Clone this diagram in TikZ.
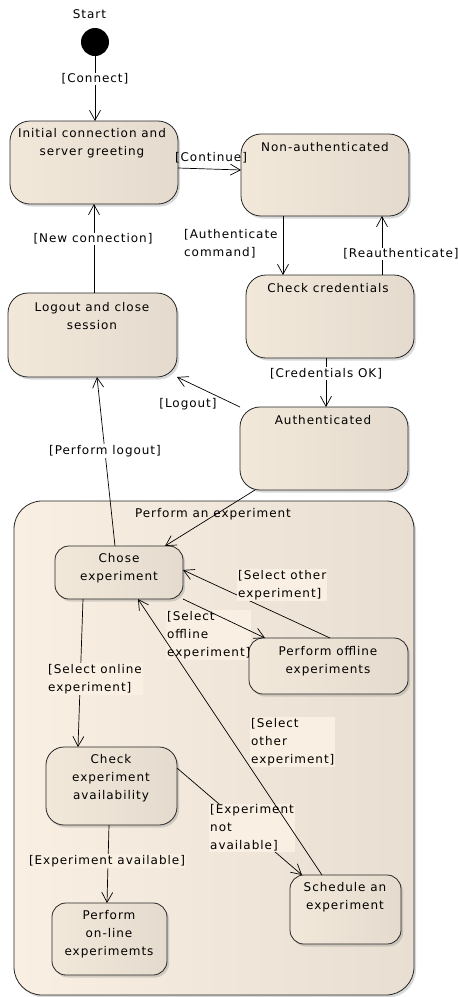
\documentclass[tikz,border=0pt]{standalone}
\usepackage{fontspec}
\newfontfamily\diafont[LetterSpace=8]{DejaVu Sans}
\usetikzlibrary{arrows.meta,shadows,calc}
\definecolor{boxL}{HTML}{F2E8DA}
\definecolor{boxM}{HTML}{FBF1E4}
\definecolor{boxR}{HTML}{E4DBCE}
\definecolor{compL}{HTML}{F9EFE2}
\definecolor{compM}{HTML}{F9EFE2}
\definecolor{compR}{HTML}{E8DFD2}
\definecolor{lblbg}{HTML}{F9EFE2}
\begin{document}
\begin{tikzpicture}[x=1pt,y=-1pt,
  font=\diafont\fontsize{12}{18}\selectfont,
  statebox/.style={draw=black!85, line width=0.8pt, rounded corners=#1,
    left color=boxL, middle color=boxM, right color=boxR, shading angle=90,
    drop shadow={shadow xshift=2pt, shadow yshift=-2.5pt, opacity=0.3},
    inner sep=0pt, outer sep=0pt},
  statebox/.default=20pt,
  comp/.style={draw=black!85, line width=0.8pt, rounded corners=28pt,
    left color=compL, middle color=compM, right color=compR,
    drop shadow={shadow xshift=2pt, shadow yshift=-2.5pt, opacity=0.3},
    inner sep=0pt, outer sep=0pt},
  stxt/.style={align=center, inner sep=0pt},
  lbl/.style={align=center, inner sep=1pt, fill=white},
  lbli/.style={align=left, inner sep=1pt, fill=lblbg},
  lbln/.style={align=left, inner sep=1pt},
  conn/.style={draw=black, line width=0.7pt,
    -{Straight Barb[length=10pt,width=11pt,line width=0.7pt]}}
]
\useasboundingbox (0,0) rectangle (458,997);
\fill[white] (0,0) rectangle (458,997);

% composite state
\node[comp, minimum width=400pt, minimum height=494pt] (compbox) at (214,748) {};
\node[stxt] (compT) at (213,514) {Perform an experiment};

% start
\node[stxt] (startT) at (89.5,14) {Start};
\node[circle, fill=black, minimum size=28pt, inner sep=0pt] (start) at (95,42) {};

% states
\node[statebox, minimum width=168pt, minimum height=83pt] (init) at (94,162.5) {};
\node[statebox, minimum width=168pt, minimum height=82pt] (nonauth) at (325,175) {};
\node[statebox, minimum width=168pt, minimum height=83pt] (check) at (330,316.5) {};
\node[statebox, minimum width=168pt, minimum height=83pt] (authd) at (324,448.5) {};
\node[statebox, minimum width=169pt, minimum height=84pt] (logout) at (92.5,335) {};
\node[statebox=14pt, minimum width=128pt, minimum height=53pt] (chose) at (119,572.5) {};
\node[statebox=18pt, minimum width=131pt, minimum height=78pt] (checkexp) at (111.5,786) {};
\node[statebox=14pt, minimum width=111pt, minimum height=69pt] (sched) at (345.5,909.5) {};
\node[statebox=14pt, minimum width=115pt, minimum height=72pt] (online) at (109.5,939) {};

% labels inside composite drawn before the offline box
\node[lbli, anchor=west] (lSelOff) at (166,635) {[Select\\offline\\experiment]};
\node[statebox=14pt, minimum width=159pt, minimum height=56pt] (offline) at (328.5,666) {};

% state texts
\node[stxt] (initT) at (92,143.5) {Initial connection and\\server greeting};
\node[stxt] (nonT) at (325,147) {Non-authenticated};
\node[stxt] (checkT) at (328,288) {Check credentials};
\node[stxt] (authT) at (323,420) {Authenticated};
\node[stxt] (logoutT) at (92,316) {Logout and close\\session};
\node[stxt] (choseT) at (119,568) {Chose\\experiment};
\node[stxt] (offT) at (328,661) {Perform offline\\experiments};
\node[stxt] (chkexpT) at (111,778) {Check\\experiment\\availability};
\node[stxt] (schedT) at (345,897.5) {Schedule an\\experiment};
\node[stxt] (onlT) at (109,934.5) {Perform\\on-line\\experimemts};

% connectors
\draw[conn] (start.south) -- (start.south |- init.north);
\draw[conn] ([yshift=-5.5pt]init.east) -- ([yshift=5pt]nonauth.west);
\draw[conn] ([xshift=-42pt]nonauth.south) -- ([xshift=-42pt]nonauth.south |- check.north);
\draw[conn] ([xshift=52pt]check.north) -- ([xshift=52pt]check.north |- nonauth.south);
\draw[conn] ([xshift=-4pt]check.south) -- ([xshift=-4pt]check.south |- authd.north);
\draw[conn] (authd.north west) -- (logout.south east);
\draw[conn] ([xshift=1.5pt]logout.north) -- ([xshift=1.5pt]logout.north |- init.south);
\draw[conn] ([xshift=-4pt]chose.north) -- ([xshift=4.5pt]logout.south);
\draw[conn] ([xshift=15pt]authd.south west) -- ([xshift=-18pt]chose.north east);
\draw[conn] ([xshift=1.5pt]offline.north) -- ([yshift=2.5pt]chose.east);
\draw[conn] ([xshift=-36pt]chose.south) -- ([xshift=-33.5pt]checkexp.north);
\draw[conn] ([yshift=18pt]checkexp.east) -- ([xshift=12pt]sched.north west);
\draw[conn] ([xshift=-2.5pt]checkexp.south) -- ([xshift=-2.5pt]online.north);

% labels
\node[lbl] (lConnect) at (95,79) {[Connect]};
\node[lbln, anchor=center] (lContinue) at (211,158) {[Continue]};
\node[lbln, anchor=west] (lAuth) at (183,244) {[Authenticate\\command]};
\node[lbl] (lReauth) at (401,254) {[Reauthenticate]};
\node[lbl] (lCredOK) at (326,373.5) {[Credentials OK]};
\node[lbln] (lLogout) at (188,404) {[Logout]};
\node[lbl] (lNewConn) at (93,239) {[New connection]};
\node[lbl] (lPerfLogout) at (105,451) {[Perform logout]};
\node[lbli, anchor=west] (lSelOther1) at (237,585) {[Select other\\experiment]};
\node[lbli, anchor=west] (lSelOnline) at (47,679) {[Select online\\experiment]};
\node[lbli, anchor=west] (lSelOther2) at (250,742) {[Select\\other\\experiment]};
\node[lbli, anchor=west] (lExpNot) at (209,828) {[Experiment\\not\\available]};
\node[lbli] (lExpAv) at (107,861) {[Experiment available]};

% connectors drawn over labels
\draw[conn] (chose.south east) -- ([xshift=16pt]offline.north west);
\draw[conn] ([xshift=-23.5pt]sched.north) -- ([xshift=19pt]chose.south);
\end{tikzpicture}
\end{document}
